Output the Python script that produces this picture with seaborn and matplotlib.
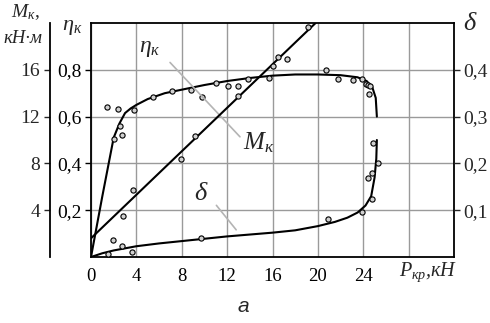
import matplotlib.pyplot as plt
import pandas as pd
import numpy as np
import seaborn as sns

# smoothed curves (P in kN)
eta_curve_p = [0, 1, 2, 2.5, 3, 3.5, 4, 5, 6.5, 8.5, 10, 12, 14, 16, 18, 20, 22, 23.5, 24.3, 24.8, 25.1, 25.2]
eta_curve_v = [0, 0.26, 0.51, 0.57, 0.615, 0.635, 0.65, 0.675, 0.70, 0.72, 0.735, 0.752, 0.765, 0.775, 0.78, 0.78, 0.777, 0.768, 0.752, 0.725, 0.68, 0.60]

m_line_p = [0, 19.8]
m_line_v = [1.6, 20.0]

delta_curve_p = [0, 1, 2, 4, 6, 8, 10, 12, 14, 16, 18, 20, 21.5, 22.6, 23.5, 24.2, 24.7, 25.0, 25.15, 25.2]
delta_curve_v = [0, 0.008, 0.014, 0.023, 0.029, 0.034, 0.039, 0.044, 0.048, 0.052, 0.057, 0.066, 0.075, 0.084, 0.095, 0.11, 0.13, 0.17, 0.21, 0.25]

# measured points
eta_pts_p = [1.4, 2.4, 3.8, 2.55, 2.0, 2.7, 5.5, 7.1, 8.8, 9.8, 11.0, 12.1, 13.0, 13.8, 15.7, 20.7, 21.8, 23.1, 23.9, 24.2, 24.4, 24.6, 24.5]
eta_pts_v = [0.64, 0.634, 0.63, 0.56, 0.506, 0.52, 0.685, 0.71, 0.715, 0.685, 0.745, 0.73, 0.73, 0.76, 0.765, 0.80, 0.76, 0.757, 0.76, 0.74, 0.735, 0.73, 0.695]

m_pts_p = [2.8, 3.7, 7.9, 9.2, 13.0, 16.0, 16.5, 17.3, 19.1]
m_pts_v = [3.5, 5.7, 8.4, 10.3, 13.8, 16.3, 17.1, 16.9, 19.7]

delta_pts_p = [1.5, 1.9, 2.7, 3.6, 9.7, 20.9, 23.9, 24.8, 24.4, 24.8, 25.3, 24.9]
delta_pts_v = [0.006, 0.036, 0.023, 0.011, 0.04, 0.081, 0.096, 0.123, 0.168, 0.18, 0.2, 0.243]

x_ticks = [0, 4, 8, 12, 16, 20, 24, 28]
x_labels = ["0", "4", "8", "12", "16", "20", "24", ""]
eta_ticks = [0.2, 0.4, 0.6, 0.8]
eta_labels = ["0,2", "0,4", "0,6", "0,8"]
m_ticks = [4, 8, 12, 16]
m_labels = ["4", "8", "12", "16"]
delta_ticks = [0.1, 0.2, 0.3, 0.4]
delta_labels = ["0,1", "0,2", "0,3", "0,4"]

sns.set_style("white")
plt.rcParams["font.family"] = ["Liberation Serif", "DejaVu Serif"]
plt.rcParams["mathtext.fontset"] = "custom"
plt.rcParams["mathtext.it"] = "Liberation Serif:italic"
plt.rcParams["mathtext.rm"] = "Liberation Serif"

W, H = 490, 323


def px(x, y):
    # pixel position -> figure fraction
    return x / W, 1 - y / H


fig = plt.figure(figsize=(4.9, 3.23), dpi=100)
ax = fig.add_axes([91 / W, 1 - 257 / H, (454 - 91) / W, (257 - 23) / H])
ax_d = ax.twinx()
ax_m = ax.twinx()

# grid
ax.set_xticks(x_ticks)
ax.set_xticklabels(x_labels)
ax.set_yticks(eta_ticks)
ax.set_yticklabels(eta_labels)
ax.grid(True, color="#9a9a9a", lw=1.0)
ax.set_axisbelow(True)

grey = "#d0d0d0"
kw = dict(marker="o", s=14, color=grey, edgecolor="black", linewidth=0.8, zorder=3)

# efficiency
sns.lineplot(x=eta_curve_p, y=eta_curve_v, ax=ax, sort=False, estimator=None, color="black", lw=1.5)
sns.scatterplot(x=eta_pts_p, y=eta_pts_v, ax=ax, **kw)

# torque
sns.lineplot(x=m_line_p, y=m_line_v, ax=ax_m, sort=False, estimator=None, color="black", lw=1.5)
sns.scatterplot(x=m_pts_p, y=m_pts_v, ax=ax_m, **kw)

# slip
sns.lineplot(x=delta_curve_p, y=delta_curve_v, ax=ax_d, sort=False, estimator=None, color="black", lw=1.5)
sns.scatterplot(x=delta_pts_p, y=delta_pts_v, ax=ax_d, **kw)

for a in (ax, ax_d, ax_m):
    a.set_xlabel("")
    a.set_ylabel("")
ax.set_xlim(0, 32)
ax.set_ylim(0, 1.0)
ax_d.set_ylim(0, 0.5)
ax_m.set_ylim(0, 20)

# spines and ticks
for s in ax.spines.values():
    s.set_color("black")
    s.set_linewidth(1.3)
ax.tick_params(axis="both", direction="out", length=4, width=1, colors="black", labelsize=14, pad=3)
ax.tick_params(axis="x", labelsize=13.5, length=5)

ax_d.set_yticks(delta_ticks)
ax_d.set_yticklabels(delta_labels)
ax_d.tick_params(axis="y", direction="out", length=4, width=1, labelsize=14, pad=3)
for s in ax_d.spines.values():
    s.set_visible(False)

ax_m.yaxis.set_ticks_position("left")
ax_m.yaxis.set_label_position("left")
for name, s in ax_m.spines.items():
    s.set_visible(name == "left")
ax_m.spines["left"].set_position(("outward", 29.5))
ax_m.spines["left"].set_linewidth(1.3)
ax_m.spines["left"].set_color("black")
ax_m.set_yticks(m_ticks)
ax_m.set_yticklabels(m_labels)
ax_m.tick_params(axis="y", direction="out", length=4, width=1, labelsize=14, pad=3)

# curve labels with leader lines
lead = dict(arrowstyle="-", color="#b4b4b4", lw=1.2)
ax.annotate("", xy=(13.3, 0.505), xytext=(6.8, 0.84), arrowprops=lead)
ax.annotate("", xy=(12.95, 0.107), xytext=(10.9, 0.23), arrowprops=lead)
ax.text(5.2, 0.89, r"$\eta_к$", fontsize=17, ha="center", va="center")
ax.text(13.4, 0.49, r"$M_к$", fontsize=18, ha="left", va="center")
ax.text(9.7, 0.27, r"$\delta$", fontsize=19, ha="center", va="center")

# axis titles
fig.text(*px(25, 17), r"$M_к$,", fontsize=14, ha="center", va="baseline")
fig.text(*px(23, 43), "кН·м", fontsize=13.5, style="italic", ha="center", va="baseline")
fig.text(*px(72, 30), r"$\eta_к$", fontsize=16, ha="center", va="baseline")
fig.text(*px(470, 30), r"$\delta$", fontsize=19, ha="center", va="baseline")
fig.text(*px(399, 276), r"$P_{кр}$,кН", fontsize=14.5, style="italic", ha="left", va="baseline")
fig.text(*px(243, 306), "а", fontsize=15, style="italic", family="Liberation Sans", ha="center", va="center")

fig.savefig("out.png", dpi=100)
